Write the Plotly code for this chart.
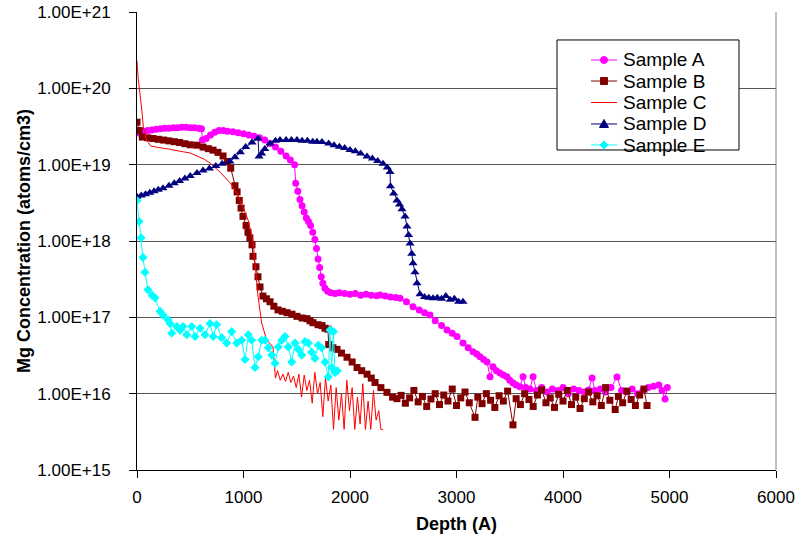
import plotly.graph_objects as go

# ---------------- data ----------------
depth_a = [20, 60, 100, 140, 180, 220, 260, 300, 340, 380, 420, 460, 500, 540, 580, 605,
           615, 650, 690, 730, 770, 810, 850, 900, 950, 1000, 1050, 1100, 1150, 1200, 1250,
           1300, 1350, 1400, 1440, 1480, 1490, 1510, 1530, 1550, 1570, 1590, 1610, 1630,
           1650, 1670, 1685, 1700, 1715, 1730, 1745, 1765, 1790, 1820, 1860, 1900, 1950,
           2000, 2050, 2100, 2150, 2200, 2250, 2282, 2330, 2380, 2430, 2470, 2530, 2592,
           2650, 2700, 2751, 2800, 2860, 2911, 2960, 3005, 3061, 3110, 3155, 3190, 3221,
           3255, 3287, 3315, 3343, 3375, 3409, 3440, 3474, 3500, 3531, 3560, 3596, 3625,
           3650, 3690, 3719, 3750, 3800, 3850, 3900, 3950, 4000, 4050, 4100, 4150, 4200,
           4240, 4273, 4300, 4350, 4400, 4450, 4507, 4550, 4600, 4650, 4700, 4750, 4800,
           4850, 4900, 4930, 4958, 4980]
conc_a = [2.6e19, 2.75e19, 2.8e19, 2.85e19, 2.9e19, 2.95e19, 3.0e19, 3.0e19, 3.05e19,
          3.05e19, 3.1e19, 3.1e19, 3.05e19, 3.05e19, 3.0e19, 2.95e19,
          2.1e19, 2.2e19, 2.45e19, 2.65e19, 2.8e19, 2.8e19, 2.75e19, 2.7e19, 2.62e19,
          2.55e19, 2.45e19, 2.35e19, 2.25e19, 2.1e19, 1.9e19, 1.7e19, 1.5e19, 1.3e19,
          1.15e19, 1.0e19, 5.7e18, 4.5e18, 3.5e18, 2.9e18, 2.4e18, 2.0e18, 1.8e18,
          1.6e18, 1.3e18, 1.05e18, 8.0e17, 5.8e17, 4.5e17, 3.4e17, 2.8e17, 2.4e17,
          2.2e17, 2.1e17, 2.05e17, 2.1e17, 2.05e17, 2.0e17, 2.05e17, 1.95e17, 2.0e17,
          1.95e17, 1.92e17, 1.96e17, 1.9e17, 1.85e17, 1.82e17, 1.78e17, 1.6e17, 1.38e17,
          1.25e17, 1.15e17, 1.07e17, 9.0e16, 7.8e16, 6.8e16, 6.2e16, 5.6e16, 4.6e16,
          4.0e16, 3.55e16, 3.3e16, 3.05e16, 2.8e16, 2.6e16, 1.66e16, 2.25e16, 2.0e16,
          1.86e16, 1.75e16, 1.66e16, 1.5e16, 1.38e16, 1.3e16, 1.23e16, 1.66e16,
          1.2e16, 1.15e16, 1.66e16, 1.1e16, 1.2e16, 1.05e16, 1.15e16, 1.1e16, 1.2e16,
          1.0e16, 1.15e16, 1.1e16, 1.05e16, 1.12e16, 1.6e16, 1.1e16, 1.15e16, 1.05e16,
          1.2e16, 1.65e16, 1.1e16, 1.05e16, 1.15e16, 1.0e16, 1.1e16, 1.2e16, 1.25e16,
          1.3e16, 1.1e16, 8.5e15, 1.2e16]

depth_b = [0, 20, 50, 100, 150, 200, 250, 300, 350, 400, 450, 500, 563, 620, 670, 714,
           760, 808, 850, 880, 920, 940, 960, 977, 995, 1024, 1042, 1060, 1080, 1089, 1117,
           1136, 1155, 1183, 1215, 1249, 1285, 1324, 1365, 1409, 1455, 1502, 1550, 1596,
           1625, 1653, 1700, 1737, 1765, 1793, 1800, 1840, 1878, 1920, 1972, 2020, 2066,
           2110, 2160, 2200, 2235, 2290, 2347, 2400, 2441,
           2480, 2520, 2560, 2600, 2640, 2680, 2720, 2760, 2800, 2840, 2880, 2920, 2960,
           3000, 3040, 3080, 3120, 3174, 3200, 3240, 3280, 3320, 3360, 3400, 3440, 3480,
           3530, 3560, 3600, 3640, 3680, 3720, 3760, 3800, 3840, 3880, 3920, 3960, 4000,
           4040, 4080, 4120, 4160, 4200, 4240, 4280, 4320, 4360, 4400, 4440, 4490, 4520,
           4560, 4600, 4640, 4680, 4720, 4760, 4789]
conc_b = [3.6e19, 2.8e19, 2.3e19, 2.25e19, 2.2e19, 2.15e19, 2.1e19, 2.05e19, 2.0e19,
          1.95e19, 1.88e19, 1.82e19, 1.8e19, 1.7e19, 1.62e19, 1.55e19, 1.45e19, 1.3e19,
          1.1e19, 9.0e18, 5.3e18, 4.4e18, 3.4e18, 2.7e18, 2.1e18, 1.6e18, 1.3e18,
          1.1e18, 8.9e17, 6.3e17, 4.6e17, 3.4e17, 2.5e17, 1.9e17, 1.75e17, 1.6e17,
          1.4e17, 1.25e17, 1.2e17, 1.15e17, 1.1e17, 1.03e17, 9.8e16, 9.6e16, 9.0e16,
          8.5e16, 8.0e16, 7.8e16, 7.2e16, 7.0e16, 4.4e16, 4.0e16, 3.8e16, 3.4e16,
          3.0e16, 2.6e16, 2.2e16, 2.0e16, 1.8e16, 1.6e16, 1.4e16, 1.2e16, 1.04e16,
          9.0e15, 8.6e15,
          9.5e15, 7.5e15, 8.8e15, 1.1e16, 7.8e15, 9.2e15, 6.8e15, 8.5e15, 1.0e16, 7.2e15,
          9.6e15, 8.0e15, 1.15e16, 7.0e15, 8.8e15, 1.05e16, 7.6e15, 4.9e15, 9.0e15,
          7.4e15, 1.0e16, 8.2e15, 6.6e15, 9.4e15, 8.0e15, 1.08e16, 3.9e15, 8.6e15,
          7.2e15, 1.0e16, 8.4e15, 6.8e15, 9.6e15, 1.12e16, 7.6e15, 8.8e15, 6.6e15,
          9.8e15, 8.0e15, 1.1e16, 7.2e15, 9.0e15, 6.4e15, 8.6e15, 1.05e16, 7.8e15,
          9.4e15, 7.0e15, 1.2e16, 8.2e15, 6.2e15, 9.2e15, 7.6e15, 1.08e16, 8.4e15,
          7.0e15, 9.6e15, 1.15e16, 7.0e15]

depth_c = [0, 10, 45, 60, 90, 130, 200, 244, 300, 404, 500, 563, 630, 686, 779, 873, 939,
           995, 1042, 1070, 1090, 1108, 1124, 1136, 1171, 1218, 1277,
           1300, 1320, 1345, 1370, 1395, 1420, 1445, 1470, 1495, 1520, 1545, 1570, 1595,
           1620, 1645, 1670, 1695, 1720, 1745, 1770, 1795, 1820, 1845, 1870, 1895, 1920,
           1945, 1970, 1995, 2020, 2045, 2070, 2095, 2120, 2145, 2170, 2195, 2220, 2245,
           2270, 2290, 2310]
conc_c = [2.3e20, 1.4e20, 5.2e19, 3.1e19, 2.1e19, 1.75e19, 1.68e19, 1.65e19, 1.6e19,
          1.5e19, 1.42e19, 1.3e19, 1.18e19, 1.05e19, 8.0e18, 5.8e18, 4.2e18, 2.8e18,
          1.9e18, 1.3e18, 1.0e18, 5.1e17, 2.8e17, 1.9e17, 8.4e16, 5.0e16, 4.1e16,
          1.6e16, 2.0e16, 1.5e16, 1.8e16, 1.45e16, 1.9e16, 1.4e16, 1.7e16, 1.2e16,
          1.8e16, 9.0e15, 1.75e16, 1.1e16, 1.5e16, 7.5e15, 1.9e16, 1.0e16, 1.4e16,
          5.0e15, 1.6e16, 8.0e15, 1.3e16, 3.4e15, 1.2e16, 4.5e15, 1.0e16, 3.4e15,
          1.5e16, 6.0e15, 1.2e16, 3.4e15, 9.0e15, 4.0e15, 1.35e16, 3.4e15, 8.0e15,
          3.4e15, 1.1e16, 4.5e15, 6.0e15, 3.4e15, 3.4e15]

depth_d = [0, 40, 80, 120, 160, 200, 244, 300, 350, 400, 450, 500, 563, 620, 680, 740,
           800, 873, 920, 970, 1020, 1080, 1136, 1146, 1170, 1200, 1249, 1300, 1343, 1400,
           1450, 1502, 1550, 1600, 1650, 1690, 1737, 1800, 1850, 1900, 1950, 2000, 2050,
           2100, 2160, 2210, 2260, 2310, 2350, 2376, 2380, 2410, 2441, 2465, 2488, 2517,
           2535, 2550, 2564, 2580, 2592, 2610, 2629, 2657, 2700, 2740, 2780, 2820, 2860,
           2900, 2940, 2980, 3020, 3061]
conc_d = [3.8e18, 3.95e18, 4.1e18, 4.3e18, 4.5e18, 4.7e18, 4.9e18, 5.3e18, 5.7e18,
          6.1e18, 6.6e18, 7.1e18, 7.8e18, 8.4e18, 8.9e18, 9.6e18, 1.03e19, 1.1e19,
          1.25e19, 1.45e19, 1.7e19, 1.95e19, 2.2e19, 1.28e19, 1.4e19, 1.6e19, 1.9e19,
          2.05e19, 2.1e19, 2.1e19, 2.1e19, 2.1e19, 2.05e19, 2.05e19, 2.0e19, 2.0e19,
          1.98e19, 1.9e19, 1.8e19, 1.72e19, 1.65e19, 1.56e19, 1.5e19, 1.4e19, 1.28e19,
          1.2e19, 1.12e19, 1.03e19, 9.2e18, 8.0e18, 5.2e18, 4.2e18, 3.4e18, 3.0e18,
          2.6e18, 2.1e18, 1.55e18, 1.2e18, 9.3e17, 6.8e17, 5.1e17, 3.9e17, 2.8e17,
          2.0e17, 1.85e17, 1.8e17, 1.78e17, 1.8e17, 1.75e17, 1.9e17, 1.7e17, 1.75e17,
          1.6e17, 1.6e17]

depth_e = [0, 19, 38, 56, 75, 103, 141, 169, 216, 244, 291, 310, 326, 373, 404, 432, 467,
           514, 545, 592, 639, 686, 716, 748, 795, 842, 889, 936, 983, 1014, 1045, 1077,
           1108, 1139, 1171, 1202, 1233, 1265, 1296, 1327, 1359, 1390, 1421, 1453, 1484,
           1515, 1547, 1578, 1609, 1640, 1671, 1702, 1734, 1765, 1796, 1812, 1828, 1844,
           1859, 1881]
conc_e = [3.4e18, 1.8e18, 1.1e18, 6.1e17, 3.9e17, 2.3e17, 1.95e17, 1.8e17, 1.2e17,
          1.07e17, 9.3e16, 8.3e16, 6.2e16, 7.6e16, 6.8e16, 7.6e16, 5.9e16, 7.6e16,
          5.6e16, 7.2e16, 5.9e16, 8.3e16, 5.6e16, 8.0e16, 5.4e16, 4.6e16, 6.5e16,
          4.6e16, 5.0e16, 2.8e16, 5.9e16, 5.0e16, 2.2e16, 3.05e16, 5.0e16, 5.0e16,
          4.0e16, 3.2e16, 2.5e16, 4.1e16, 5.0e16, 5.6e16, 4.1e16, 2.6e16, 4.6e16,
          3.8e16, 3.2e16, 4.8e16, 4.6e16, 3.5e16, 2.9e16, 4.3e16, 4.0e16, 2.6e16,
          1.66e16, 6.8e16, 2.2e16, 6.5e16, 1.9e16, 2.0e16]

series_names = ["Sample A", "Sample B", "Sample C", "Sample D", "Sample E"]
series_colors = ["#FF00FF", "#800000", "#FF0000", "#000080", "#00FFFF"]
series_symbols = ["circle", "square", None, "triangle-up", "diamond"]

y_tick_vals = [1e15, 1e16, 1e17, 1e18, 1e19, 1e20, 1e21]
y_tick_text = ["1.00E+15", "1.00E+16", "1.00E+17", "1.00E+18", "1.00E+19",
               "1.00E+20", "1.00E+21"]
x_tick_vals = [0, 1000, 2000, 3000, 4000, 5000, 6000]

# ---------------- figure ----------------
FONT = "Liberation Sans, Arial, sans-serif"
xs = [depth_a, depth_b, depth_c, depth_d, depth_e]
ys = [conc_a, conc_b, conc_c, conc_d, conc_e]
marker_sizes = [7, 7, 0, 8, 7]

fig = go.Figure()
for x, y, name, col, sym, ms in zip(xs, ys, series_names, series_colors,
                                    series_symbols, marker_sizes):
    if sym is None:
        fig.add_trace(go.Scatter(x=x, y=y, name=name, mode="lines",
                                 line=dict(color=col, width=1), showlegend=False))
    else:
        fig.add_trace(go.Scatter(x=x, y=y, name=name, mode="lines+markers",
                                 line=dict(color=col, width=1),
                                 marker=dict(symbol=sym, size=ms, color=col),
                                 showlegend=False))

fig.update_layout(
    width=798, height=543,
    margin=dict(l=137, r=22, t=12, b=73, autoexpand=False),
    paper_bgcolor="white", plot_bgcolor="white",
    font=dict(family=FONT, size=17, color="black"),
    showlegend=False,
)
fig.update_xaxes(range=[0, 6000], tickvals=x_tick_vals, showgrid=False,
                 showline=True, linecolor="black", linewidth=1,
                 ticks="outside", ticklen=7, tickcolor="black",
                 zeroline=False, ticklabelstandoff=5,
                 title=dict(text="<b>Depth (A)</b>", font=dict(size=18), standoff=10))
fig.update_yaxes(type="log", range=[15, 21], tickvals=y_tick_vals, ticktext=y_tick_text,
                 showgrid=True, gridcolor="#555555", gridwidth=1,
                 showline=True, linecolor="black", linewidth=1,
                 ticks="outside", ticklen=7, tickcolor="black",
                 zeroline=False, ticklabelstandoff=15, ticklabeloverflow="allow",
                 title=dict(text="<b>Mg Concentration (atoms/cm3)</b>", font=dict(size=18),
                            standoff=2))
# right border of the plot area (grey, as in the reference)
fig.add_shape(type="line", xref="paper", yref="paper", x0=1, x1=1, y0=0, y1=1,
              line=dict(color="#808080", width=1))

# ---------------- legend box (Excel style, tight rows) ----------------
LEG_X0, LEG_X1, LEG_Y0, LEG_Y1 = 0.6573, 0.9421, 0.6987, 0.9389
entry_y = [0.8952, 0.8493, 0.8024, 0.7555, 0.7096]
KEY_X0, KEY_X1, KEY_XC, TEXT_X = 0.7105, 0.7512, 0.7308, 0.7574
fig.add_shape(type="rect", xref="paper", yref="paper", x0=LEG_X0, x1=LEG_X1,
              y0=LEG_Y0, y1=LEG_Y1, line=dict(color="black", width=1),
              fillcolor="white", layer="above")
symbol_paths = {
    "triangle-up": "M -4.5,-3.5 L 4.5,-3.5 L 0,4.5 Z",
    "diamond": "M 0,4 L 4,0 L 0,-4 L -4,0 Z",
}
for yy, name, col, sym in zip(entry_y, series_names, series_colors, series_symbols):
    fig.add_shape(type="line", xref="paper", yref="paper", x0=KEY_X0, x1=KEY_X1,
                  y0=yy, y1=yy, line=dict(color=col, width=1), layer="above")
    common = dict(xref="paper", yref="paper", xsizemode="pixel", ysizemode="pixel",
                  xanchor=KEY_XC, yanchor=yy, fillcolor=col,
                  line=dict(color=col, width=1), layer="above")
    if sym == "circle":
        fig.add_shape(type="circle", x0=-3.5, x1=3.5, y0=-3.5, y1=3.5, **common)
    elif sym == "square":
        fig.add_shape(type="rect", x0=-3.5, x1=3.5, y0=-3.5, y1=3.5, **common)
    elif sym in symbol_paths:
        fig.add_shape(type="path", path=symbol_paths[sym], **common)
    fig.add_annotation(x=TEXT_X, y=yy, xref="paper", yref="paper", text=name,
                       showarrow=False, xanchor="left", yanchor="middle",
                       font=dict(family=FONT, size=19, color="black"))

# remove the browser's default 8px page margin so the figure fills the window
fig.write_html("out.html", config={"displayModeBar": False},
               post_script="document.body.style.margin='0px';")
